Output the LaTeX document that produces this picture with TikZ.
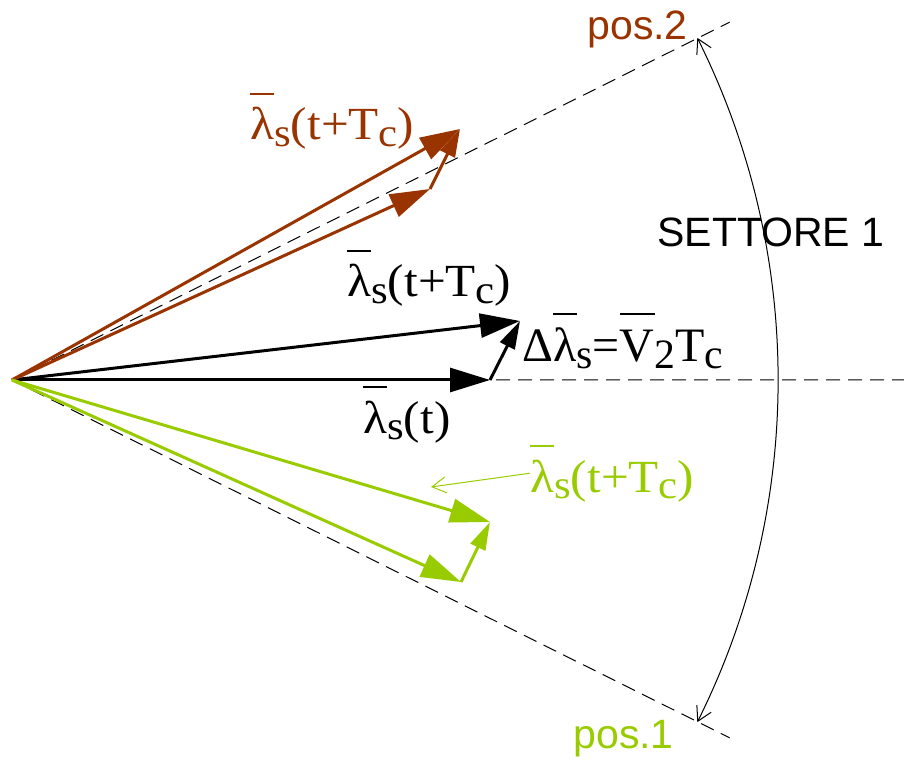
\documentclass[tikz,border=0pt]{standalone}
\usepackage{fontspec}
\setmainfont{Liberation Serif}
\newfontfamily\seriffont{Liberation Serif}
\newfontfamily\sansfont{Liberation Sans}
\usepackage{graphicx}
\usetikzlibrary{arrows.meta}
\definecolor{brun}{RGB}{153,51,0}
\definecolor{verde}{RGB}{153,204,0}
\newsavebox\barbox
\newcommand\barred[1]{\sbox\barbox{#1}\rlap{\raisebox{0.97em}{\rule{\wd\barbox}{0.06em}}}\usebox\barbox}
\newcommand\pedice[1]{\raisebox{-0.14em}{\scalebox{0.87}{#1}}}
\newcommand\lams{\barred{λ}\pedice{s}}
\newcommand\largo[1]{\scalebox{1.07}[1]{#1}}

\begin{document}
\begin{tikzpicture}[x=0.5pt,y=0.5pt,>=Latex,
  vec/.style={line width=1.5pt,-{Triangle[length=20pt,width=12pt]}},
  dvec/.style={line width=1.5pt,-{Triangle[length=14pt,width=8pt]}},
  guida/.style={dash pattern=on 7pt off 4pt,line width=0.5pt},
  barb/.tip={Straight Barb[length=7pt,width=8pt]},
  lab/.style={inner sep=0pt,anchor=base west,font=\seriffont\fontsize{23}{26}\selectfont},
  slab/.style={inner sep=0pt,anchor=base west,font=\sansfont\fontsize{20.5}{24}\selectfont}]
\useasboundingbox (0,0) rectangle (904,761);
\coordinate (O) at (12,381);
\path (O) ++(26.5:802) coordinate (P2);
\path (O) ++(-26.5:802) coordinate (P1);
\coordinate (H) at (904,381);
\coordinate (A1) at (490,381);
\coordinate (A2) at (520,440);
\coordinate (B1) at (430,572);
\coordinate (B2) at (460,632);
\coordinate (G1) at (461,179);
\coordinate (G2) at (490,239);
\coordinate (gp) at (431,274);
\draw[guida] (O)--(P2) (O)--(H) (O)--(P1);
\draw[line width=0.5pt,barb-barb] (O) ++(-26.53:766) arc[start angle=-26.53,end angle=26.53,radius=766];
\draw[vec] (O)--(A1);
\draw[vec] (O)--(A2);
\draw[dvec] (A1)--(A2);
\draw[vec,brun] (O)--(B1);
\draw[vec,brun] (O)--(B2);
\draw[dvec,brun] (B1)--(B2);
\draw[vec,verde] (O)--(G1);
\draw[vec,verde] (O)--(G2);
\draw[dvec,verde] (G1)--(G2);
\node[lab,text=brun] (lbrun) at (250,621) {\largo{\lams(t+T\pedice{c})}};
\node[lab] (lnext) at (347,464) {\largo{\lams(t+T\pedice{c})}};
\node[lab,font=\seriffont\fontsize{24}{28}\selectfont] (ldelta) at (522,399) {Δ\lams=\barred{V}\pedice{2}T\pedice{c}};
\node[lab] (lnow) at (363,328) {\largo{\lams(t)}};
\node[lab,text=verde] (lverde) at (530,269) {\largo{\lams(t+T\pedice{c})}};
\draw[verde,line width=0.5pt,-barb] (lverde.west)--(gp);
\node[slab,text=brun] (pos2) at (587,721) {pos.2};
\node[slab] (settore) at (657,514) {SETTORE 1};
\node[slab,text=verde] (pos1) at (573,13) {pos.1};
\end{tikzpicture}
\end{document}
